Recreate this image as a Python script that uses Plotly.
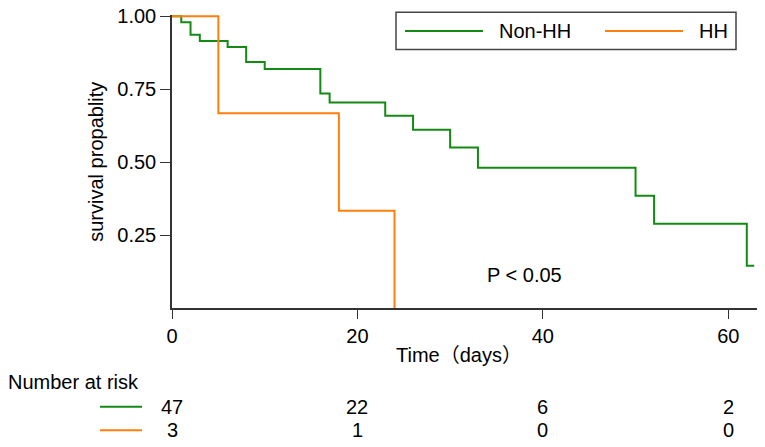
import plotly.graph_objects as go

# Kaplan-Meier step values
nonhh_t = [0, 1, 2, 3, 6, 8, 10, 16, 17, 23, 26, 30, 33, 50, 52, 62, 62.8]
nonhh_s = [1.0, 0.979, 0.936, 0.915, 0.894, 0.843, 0.819, 0.735, 0.704,
           0.659, 0.611, 0.55, 0.481, 0.385, 0.289, 0.145, 0.145]
hh_t = [0, 5, 18, 24]
hh_s = [1.0, 0.667, 0.333, 0.0]

groups = ["Non-HH", "HH"]
colors = ["#138a13", "#ff7f0e"]

# number at risk table
risk_times = [0, 20, 40, 60]
nonhh_risk = [47, 22, 6, 2]
hh_risk = [3, 1, 0, 0]

y_ticks = [0.25, 0.5, 0.75, 1.0]
x_ticks = [0, 20, 40, 60]

FONT = "Arial, Liberation Sans, Noto Sans CJK SC, sans-serif"
W, H = 765, 447
L, R, T, B = 172, 8, 15, 138.5


def px(x):
    # pixel -> paper x
    return (x - L) / (W - L - R)


def py(y):
    # pixel -> paper y
    return (H - B - y) / (H - T - B)


fig = go.Figure()
fig.add_trace(go.Scatter(x=nonhh_t, y=nonhh_s, mode="lines", line_shape="hv",
                         line=dict(color=colors[0], width=2), name=groups[0],
                         showlegend=False))
fig.add_trace(go.Scatter(x=hh_t, y=hh_s, mode="lines", line_shape="hv",
                         line=dict(color=colors[1], width=2), name=groups[1],
                         showlegend=False))

shapes = []
annotations = []

# legend box
shapes.append(dict(type="rect", xref="paper", yref="paper",
                   x0=px(396), x1=px(736), y0=py(49.5), y1=py(12.3),
                   line=dict(color="#444444", width=1.5), fillcolor="white",
                   layer="below"))
for i, (x0, x1, xt) in enumerate([(405, 483, 497), (605, 683, 697)]):
    shapes.append(dict(type="line", xref="paper", yref="paper",
                       x0=px(x0), x1=px(x1), y0=py(31), y1=py(31),
                       line=dict(color=colors[i], width=2)))
    annotations.append(dict(text=groups[i], xref="paper", yref="paper",
                            x=px(xt), y=py(31), xanchor="left", yanchor="middle",
                            showarrow=False))

# p value
annotations.append(dict(text="P < 0.05", xref="x", yref="y", x=33.8, y=0.113,
                        xanchor="left", yanchor="middle", showarrow=False))

# axis titles, placed by hand
annotations.append(dict(text="Time（days）", xref="paper", yref="paper",
                        x=px(459), y=py(356), xanchor="center", yanchor="middle",
                        showarrow=False))
annotations.append(dict(text="survival propablity", xref="paper", yref="paper",
                        x=px(96), y=py(162), xanchor="center", yanchor="middle",
                        textangle=-90, showarrow=False))

# number at risk
annotations.append(dict(text="Number at risk", xref="paper", yref="paper",
                        x=px(6), y=py(383), xanchor="left", yanchor="middle",
                        showarrow=False))
for i, (row, yy) in enumerate([(nonhh_risk, 407.5), (hh_risk, 431)]):
    shapes.append(dict(type="line", xref="paper", yref="paper",
                       x0=px(100), x1=px(142), y0=py(yy), y1=py(yy),
                       line=dict(color=colors[i], width=2)))
    for t, n in zip(risk_times, row):
        annotations.append(dict(text=str(n), xref="x", yref="paper",
                                x=t, y=py(yy), xanchor="center", yanchor="middle",
                                showarrow=False))

fig.update_layout(
    width=W, height=H,
    margin=dict(l=L, r=R, t=T, b=B),
    plot_bgcolor="white", paper_bgcolor="white",
    font=dict(family=FONT, size=20, color="black"),
    shapes=shapes, annotations=annotations,
    showlegend=False,
)
fig.update_xaxes(range=[0, 63.1], tickvals=x_ticks, ticks="outside", ticklen=9,
                 tickcolor="#333333", showline=True, linecolor="#333333",
                 linewidth=1.5, showgrid=False, zeroline=False,
                 automargin=False)
fig.update_yaxes(range=[0, 1.004], tickvals=y_ticks, tickformat=".2f",
                 ticks="outside", ticklen=10, tickcolor="#333333", showline=True,
                 linecolor="#333333", linewidth=1.5, showgrid=False,
                 zeroline=False, automargin=False)

# drop the browser's default 8px body margin so the figure sits at the corner
fig.write_html("out.html", config={"displayModeBar": False},
               post_script="document.body.style.margin='0';")
